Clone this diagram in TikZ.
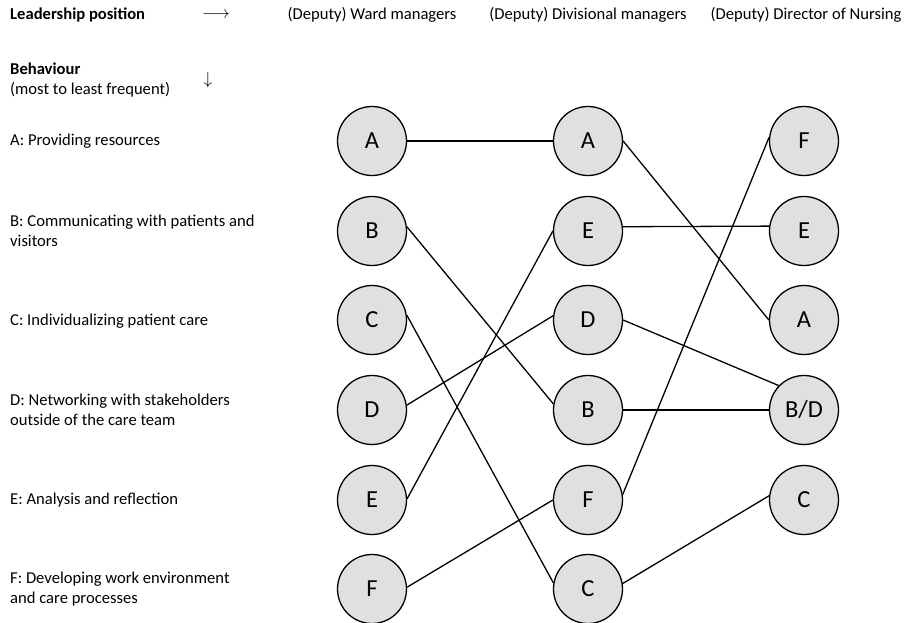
\documentclass[tikz,border=0pt]{standalone}
\usepackage{fontspec}
\setmainfont{Carlito}
\begin{document}
\begin{tikzpicture}[x=1pt,y=-1pt,
  beh/.style={circle,draw=black,line width=1.3pt,fill=black!12,minimum size=69pt,inner sep=0pt,font=\fontsize{24.5}{26}\selectfont},
  lbl/.style={anchor=west,align=left,inner sep=0pt,font=\fontsize{16.6}{20}\selectfont},
  hdr/.style={inner sep=0pt,font=\fontsize{16.6}{20}\selectfont},
  link/.style={line width=1.3pt}]
\useasboundingbox (0,0) rectangle (905,622);

% headings
\node[lbl,font=\fontsize{16.6}{20}\selectfont\bfseries] (lead) at (10,15) {Leadership position};
\node[hdr] (rarr) at (216,15) {$\longrightarrow$};
\node[hdr] (h1) at (372,15) {(Deputy) Ward managers};
\node[hdr] (h2) at (588,15) {(Deputy) Divisional managers};
\node[hdr] (h3) at (806,15) {(Deputy) Director of Nursing};
\node[lbl] (beh) at (10,80) {\textbf{Behaviour}\\(most to least frequent)};
\node[hdr] (darr) at (208,80) {$\downarrow$};

% behaviour legend
\node[lbl] (la) at (10,141) {A: Providing resources};
\node[lbl] (lb) at (10,231) {B: Communicating with patients and\\visitors};
\node[lbl] (lc) at (10,321) {C: Individualizing patient care};
\node[lbl] (ld) at (10,410) {D: Networking with stakeholders\\outside of the care team};
\node[lbl] (le) at (10,500) {E: Analysis and reflection};
\node[lbl] (lf) at (10,589) {F: Developing work environment\\and care processes};

% ward managers
\node[beh] (A1) at (372,141) {A};
\node[beh] (B1) at (372,231) {B};
\node[beh] (C1) at (372,320) {C};
\node[beh] (D1) at (372,410) {D};
\node[beh] (E1) at (372,500) {E};
\node[beh] (F1) at (372,589) {F};

% divisional managers
\node[beh] (A2) at (588,141) {A};
\node[beh] (E2) at (588,231) {E};
\node[beh] (D2) at (588,320) {D};
\node[beh] (B2) at (588,410) {B};
\node[beh] (F2) at (588,500) {F};
\node[beh] (C2) at (588,589) {C};

% director of nursing
\node[beh] (F3) at (804,141) {F};
\node[beh] (E3) at (804,231) {E};
\node[beh] (A3) at (804,320) {A};
\node[beh] (BD3) at (804,410) {B/D};
\node[beh] (C3) at (804,500) {C};

% ward -> divisional
\draw[link] (A1.east) -- (A2.west);
\draw[link] (B1.7) -- (B2.170);
\draw[link] (C1.8) -- (C2.170);
\draw[link] (D1.8) -- (D2.173);
\draw[link] (E1.2) -- (E2.west);
\draw[link] (F1.3) -- (F2.west);

% divisional -> director
\draw[link] (A2.east) -- (A3.west);
\draw[link] (E2.7.5) -- (E3.172.5);
\draw[link] (D2.east) -- (BD3.136);
\draw[link] (B2.east) -- (BD3.west);
\draw[link] (F2.9) -- (F3.174);
\draw[link] (C2.9) -- (C3.173);
\end{tikzpicture}
\end{document}
